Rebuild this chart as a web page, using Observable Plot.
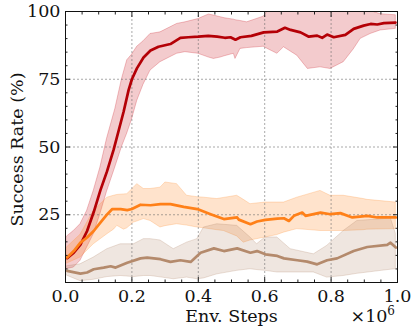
<!DOCTYPE html>
<html><head><meta charset="utf-8">
<script src="https://cdn.jsdelivr.net/npm/d3@7"></script>
<script src="https://cdn.jsdelivr.net/npm/@observablehq/plot@0.6"></script>
<style>body{margin:0;background:#fff}</style>
</head><body><div id="chart"></div>
<script>
// ---- data (x in units of 1e6 env steps, y in %) ----
const redX = [0.005,0.025,0.045,0.065,0.085,0.105,0.125,0.145,0.16,0.175,0.19,0.2,0.215,0.235,0.256,0.28,0.316,0.346,0.37,0.4,0.43,0.457,0.48,0.497,0.512,0.527,0.56,0.597,0.638,0.661,0.678,0.708,0.733,0.758,0.773,0.788,0.808,0.843,0.868,0.898,0.919,0.939,0.959,0.994];
const redY = [9,11,14,19,26,34,41,49,56,63,71,75,79,83,85.6,87,88,90.3,90.5,90.7,91,90.7,90.3,90.5,89.6,90.5,91,92.3,92.6,94,93.2,92.3,90.7,91.1,90.3,91.5,90.5,91.4,93.6,94.8,95.4,95.2,95.7,95.9];
const redBandX = [0.005,0.025,0.045,0.065,0.085,0.105,0.125,0.15,0.17,0.186,0.2,0.216,0.235,0.256,0.286,0.336,0.361,0.4,0.432,0.447,0.467,0.48,0.507,0.512,0.527,0.547,0.597,0.612,0.638,0.658,0.698,0.73,0.768,0.798,0.838,0.868,0.889,0.919,0.949,0.995];
const redLo = [5,5.5,8,12.9,17.8,25.2,33.5,42.5,50,55,60,67,73,78.2,81.3,84.4,85,84.4,83,82.5,83,83.5,84.4,82.5,86.2,86.5,87,86,84.4,86.8,83.7,78.8,79.4,78.8,81.3,86,89.9,91.7,93,93.6];
const redHi = [17,19,21.5,26.4,33.8,42.4,53,64,75,82,84,87,89,91.7,92.3,95.4,96,97.2,98.9,98.5,97.9,97.5,97,96.8,96.5,96,98.1,100.5,101,101,101,101,101,101,101,101,100.5,100.2,99,98.6];

const orangeX = [0.005,0.025,0.045,0.065,0.085,0.105,0.126,0.141,0.166,0.186,0.2,0.226,0.256,0.286,0.316,0.356,0.397,0.437,0.477,0.517,0.522,0.557,0.577,0.602,0.638,0.658,0.673,0.688,0.713,0.723,0.768,0.798,0.828,0.864,0.909,0.939,0.995];
const orangeY = [9.2,11.6,14.7,16.6,19,22.1,25.2,27.1,27.1,26.7,27.1,28.7,28.5,28.9,28.9,27.9,27.1,25.2,23.4,24,23.2,21.5,22.5,23.1,23.6,23.7,22.7,24.6,25.8,24.6,25.8,25.2,25.6,24,24.6,24,24];
const orangeBandX = [0.005,0.045,0.085,0.126,0.146,0.156,0.176,0.186,0.206,0.216,0.236,0.256,0.286,0.301,0.336,0.366,0.397,0.417,0.457,0.477,0.517,0.537,0.557,0.602,0.638,0.658,0.698,0.768,0.798,0.838,0.898,0.909,0.995];
const orangeLo = [7,9.2,14.1,17.8,19.5,20.9,19.5,20,22.1,22.5,23.4,22.7,20.3,20.8,21.5,21,20.3,20,19.3,19,17,14.7,15.5,16.6,17.5,18.4,19.7,19,19,19,19.3,19.5,19.7];
const orangeHi = [13,17.6,26.4,31.3,32,32.3,32.5,32.6,35,36.3,34.5,34.5,35,36.9,36.3,32,31.5,31.3,30.8,31.2,32,30.5,28.9,29.5,29.5,29.5,31.3,33.8,32,32,30.8,30.5,29.5];

const brownX = [0.005,0.045,0.065,0.085,0.115,0.136,0.151,0.186,0.226,0.246,0.286,0.316,0.346,0.377,0.407,0.447,0.477,0.517,0.557,0.577,0.602,0.638,0.658,0.698,0.728,0.758,0.788,0.818,0.868,0.909,0.969,0.979,0.995];
const brownY = [4.3,3.3,3.7,4.9,5.5,6,5.5,7.3,8.9,9.2,8.6,7.6,8.2,7.6,11,12.6,11.6,12.6,11,11.6,10.4,9.8,8.9,8.2,7.7,6.7,8.2,8.9,11.6,13.1,13.9,14.7,12.9];
const brownBandX = [0.005,0.045,0.085,0.126,0.166,0.206,0.236,0.256,0.286,0.326,0.366,0.397,0.417,0.457,0.517,0.557,0.577,0.602,0.638,0.678,0.748,0.788,0.838,0.879,0.959,0.979,0.995];
const brownLo = [2.5,0.5,1,2,2.4,2,2.4,2.4,1.9,1.2,1.8,1.2,1.5,3,4.3,4.9,4.6,4.3,3.7,3.7,3.7,1.8,2.4,3.2,4.4,4.7,4.9];
const brownHi = [6,6.7,9.2,12.3,14.1,14.1,16,16,15.5,12.3,14.7,16,20.3,21.5,20.9,16.6,14.1,16.6,16.6,12.3,10.4,13.5,19,22.7,23.4,24,18];

const xMajor = [0, 0.2, 0.4, 0.6, 0.8, 1.0];
const xMinor = [0.05,0.1,0.15,0.25,0.3,0.35,0.45,0.5,0.55,0.65,0.7,0.75,0.85,0.9,0.95];
const yMajor = [0, 25, 50, 75, 100];
const yMinor = [5,10,15,20,30,35,40,45,55,60,65,70,80,85,90,95];
const yLabels = [25, 50, 75, 100];
const xGrid = [0.2, 0.4, 0.6, 0.8];
const yGrid = [25, 50, 75];
const xTitle = "Env. Steps";
const yTitle = "Success Rate (%)";
const xMultBase = "×10";
const xMultExp = "6";

// ---- build ----
const pts = (xs, ys) => xs.map((x, i) => ({x, y: ys[i]}));
const band = (xs, lo, hi) => xs.map((x, i) => ({x, lo: lo[i], hi: hi[i]}));

const series = [
  {line: pts(redX, redY), band: band(redBandX, redLo, redHi), color: "#b40006", fill: "#c8101c", fo: 0.22},
  {line: pts(orangeX, orangeY), band: band(orangeBandX, orangeLo, orangeHi), color: "#ff8018", fill: "#ff8a2a", fo: 0.24},
  {line: pts(brownX, brownY), band: band(brownBandX, brownLo, brownHi), color: "#b48a6c", fill: "#b08466", fo: 0.2}
];

const F = "'DejaVu Serif', serif";
const FS = 17.5;
const marks = [];
for (const s of series) {
  marks.push(Plot.areaY(s.band, {x: "x", y1: "lo", y2: "hi", fill: s.fill, fillOpacity: s.fo,
    stroke: s.fill, strokeOpacity: 0.25, strokeWidth: 1, clip: true}));
}
marks.push(Plot.ruleX(xGrid, {stroke: "#666", strokeOpacity: 0.7, strokeDasharray: "2,2", strokeWidth: 0.8}));
marks.push(Plot.ruleY(yGrid, {stroke: "#666", strokeOpacity: 0.7, strokeDasharray: "2,2", strokeWidth: 0.8}));
for (const s of series) {
  marks.push(Plot.line(s.line, {x: "x", y: "y", stroke: s.color, strokeWidth: 2.7, clip: true}));
}
// ticks (inward) on all four sides
for (const a of ["bottom", "top"]) {
  marks.push(Plot.axisX(xMajor, {anchor: a, tickSize: -5, fill: "none", label: null, stroke: "#222"}));
  marks.push(Plot.axisX(xMinor, {anchor: a, tickSize: -2.5, fill: "none", label: null, stroke: "#222"}));
}
for (const a of ["left", "right"]) {
  marks.push(Plot.axisY(yMajor, {anchor: a, tickSize: -5, fill: "none", label: null, stroke: "#222"}));
  marks.push(Plot.axisY(yMinor, {anchor: a, tickSize: -2.5, fill: "none", label: null, stroke: "#222"}));
}
// tick labels
marks.push(Plot.axisX(xMajor, {anchor: "bottom", tickSize: 0, tickPadding: 7, tickFormat: d3.format(".1f"), label: null, fontSize: FS, fontFamily: F, fill: "#111"}));
marks.push(Plot.axisY(yLabels, {anchor: "left", tickSize: 0, tickPadding: 5, tickFormat: d3.format("d"), label: null, fontSize: FS, fontFamily: F, fill: "#111"}));
marks.push(Plot.frame({stroke: "#111", strokeWidth: 1}));
// axis titles
marks.push(Plot.text([xTitle], {text: d => d, frameAnchor: "bottom", textAnchor: "middle", lineAnchor: "middle", dy: 34, fontSize: FS, fontFamily: F, fill: "#111"}));
marks.push(Plot.text([yTitle], {text: d => d, frameAnchor: "left", textAnchor: "middle", lineAnchor: "middle", rotate: -90, dx: -48.5, dy: 2.5, fontSize: FS, fontFamily: F, fill: "#111"}));
marks.push(Plot.text([xMultBase], {text: d => d, frameAnchor: "bottom-right", textAnchor: "end", lineAnchor: "middle", dx: -10, dy: 34, fontSize: FS, fontFamily: F, fill: "#111"}));
marks.push(Plot.text([xMultExp], {text: d => d, frameAnchor: "bottom-right", textAnchor: "end", lineAnchor: "middle", dx: -2.5, dy: 28.5, fontSize: 12, fontFamily: F, fill: "#111"}));

const chart = Plot.plot({
  width: 415, height: 332,
  marginLeft: 65, marginRight: 18, marginTop: 11, marginBottom: 50,
  x: {domain: [0, 1]},
  y: {domain: [0, 100]},
  style: "font-family: 'DejaVu Serif', serif; font-size: 17.5px; background: white; color: #111;",
  marks
});
document.getElementById("chart").appendChild(chart);
</script>
</body></html>
